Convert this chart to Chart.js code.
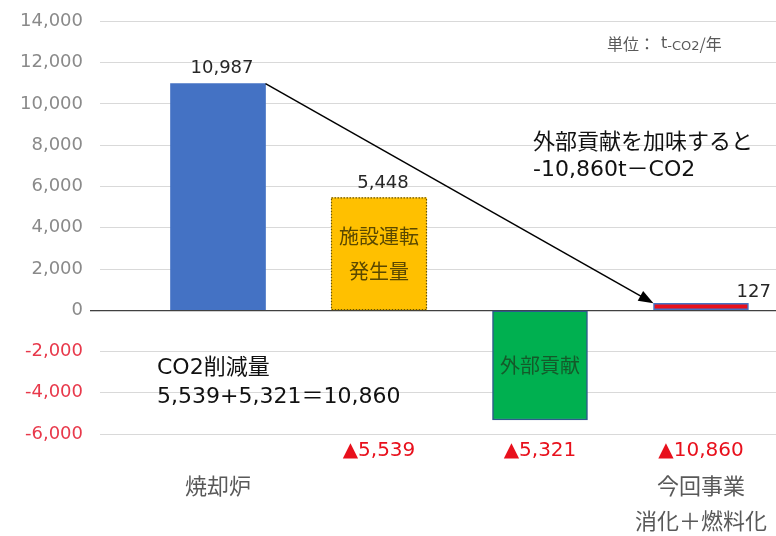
<!DOCTYPE html>
<html lang="ja">
<head>
<meta charset="utf-8">
<title>CO2削減量</title>
<script src="https://cdn.jsdelivr.net/npm/chart.js@4/dist/chart.umd.min.js"></script>
<style>
  html, body { margin: 0; padding: 0; background: #fff; overflow: hidden; }
  canvas { display: block; }
</style>
</head>
<body>
<canvas id="co2Chart" width="776" height="536"></canvas>
<script>
/* ------------------------------------------------------------
   data
   ------------------------------------------------------------ */
const categories = ["焼却炉", "施設運転発生量", "外部貢献", "今回事業"];
const values = [10987, 5448, -5321, 127];
const showValue = [true, true, false, true];
const reductions = [null, 5539, 5321, 10860];
const nameLabels = [["焼却炉"], [""], [""], ["今回事業", "消化＋燃料化"]];
const innerLabels = [[], ["施設運転", "発生量"], ["外部貢献"], []];
const yMin = -6000;
const yMax = 14000;
const yStep = 2000;

const fill = ["#4472C4", "#FFC000", "#00B050", "#E8101C"];
const edge = ["#4472C4", "#FFC000", "#2E5A8C", "#4472C4"];
const edgeWidth = [0, 0, 1.5, 1.5];

const LATIN = '"DejaVu Sans", "Noto Sans CJK JP", sans-serif';
const CJK = '"Noto Sans CJK JP", "DejaVu Sans", sans-serif';

const fmt = v => v.toLocaleString("en-US");

/* ------------------------------------------------------------
   overlay: arrow, dotted border, labels, notes
   ------------------------------------------------------------ */
const overlay = {
  id: "overlay",
  afterDatasetsDraw(chart) {
    const ctx = chart.ctx;
    const bars = chart.getDatasetMeta(0).data;
    ctx.save();

    // dotted outline on the 施設運転 bar
    const ob = bars[1];
    ctx.strokeStyle = "#6b5600";
    ctx.lineWidth = 1.2;
    ctx.setLineDash([1.5, 1.5]);
    ctx.strokeRect(ob.x - ob.width / 2, ob.y, ob.width, ob.base - ob.y);
    ctx.setLineDash([]);

    // arrow from the top of the first bar to the last one
    const a = bars[0], b = bars[3];
    const x1 = a.x + a.width / 2, y1 = a.y;
    const x2 = b.x - b.width / 2, y2 = Math.min(b.y, b.base);
    const ang = Math.atan2(y2 - y1, x2 - x1);
    const head = 15, half = 5.5;
    ctx.strokeStyle = "#000";
    ctx.fillStyle = "#000";
    ctx.lineWidth = 1.5;
    ctx.beginPath();
    ctx.moveTo(x1, y1);
    ctx.lineTo(x2 - Math.cos(ang) * head * 0.8, y2 - Math.sin(ang) * head * 0.8);
    ctx.stroke();
    ctx.beginPath();
    ctx.moveTo(x2, y2);
    ctx.lineTo(x2 - Math.cos(ang) * head - Math.sin(ang) * half, y2 - Math.sin(ang) * head + Math.cos(ang) * half);
    ctx.lineTo(x2 - Math.cos(ang) * head + Math.sin(ang) * half, y2 - Math.sin(ang) * head - Math.cos(ang) * half);
    ctx.closePath();
    ctx.fill();

    // value labels
    ctx.fillStyle = "#262626";
    ctx.font = "18px " + LATIN;
    ctx.textBaseline = "middle";
    bars.forEach((bar, i) => {
      if (!showValue[i]) return;
      const top = Math.min(bar.y, bar.base);
      if (i === bars.length - 1) {
        ctx.textAlign = "left";
        ctx.fillText(fmt(values[i]), bar.x + bar.width / 2 - 12, top - 11);
      } else {
        ctx.textAlign = "center";
        ctx.fillText(fmt(values[i]), bar.x + 4, top - 15);
      }
    });

    // text inside bars
    ctx.font = "20px " + CJK;
    ctx.textAlign = "center";
    const innerColor = ["#000", "#5a4800", "#145a2a", "#000"];
    bars.forEach((bar, i) => {
      const lines = innerLabels[i];
      if (!lines.length) return;
      const mid = (bar.y + bar.base) / 2;
      const lh = 35;
      ctx.fillStyle = innerColor[i];
      lines.forEach((t, k) => {
        ctx.fillText(t, bar.x, mid + (k - (lines.length - 1) / 2) * lh);
      });
    });

    // unit note
    ctx.textAlign = "left";
    ctx.fillStyle = "#595959";
    let ux = 607;
    const uy = 44;
    ctx.font = "16px " + CJK;
    ctx.fillText("単位：", ux, uy);
    ux += ctx.measureText("単位：").width + 6;
    ctx.font = "16px " + LATIN;
    ctx.fillText("t", ux, uy);
    ux += ctx.measureText("t").width;
    ctx.font = "13px " + LATIN;
    ctx.fillText("-CO2", ux, uy + 3);
    ux += ctx.measureText("-CO2").width;
    ctx.font = "16px " + CJK;
    ctx.fillText("/年", ux, uy);

    // notes
    ctx.fillStyle = "#111";
    ctx.font = "22px " + LATIN;
    ctx.fillText("外部貢献を加味すると", 533, 143);
    ctx.fillText("-10,860t－CO2", 533, 170);
    ctx.fillText("CO2削減量", 157, 368);
    ctx.fillText("5,539+5,321＝10,860", 157, 397);

    ctx.restore();
  }
};

/* ------------------------------------------------------------
   chart
   ------------------------------------------------------------ */
const xRange = { min: 0.267, max: 4.466, offset: false };
const categoryTicks = axis => {
  axis.ticks = categories.map((_, i) => ({ value: i + 1 }));
};

new Chart(document.getElementById("co2Chart").getContext("2d"), {
  type: "bar",
  data: {
    datasets: [{
      data: values.map((v, i) => ({ x: i + 1, y: v })),
      backgroundColor: fill,
      borderColor: edge,
      borderWidth: edgeWidth,
      borderSkipped: false,
      barThickness: 95,
      minBarLength: 7
    }]
  },
  options: {
    responsive: false,
    devicePixelRatio: 1,
    animation: false,
    layout: { padding: { top: 21.5, right: 0, left: 0, bottom: 0 } },
    plugins: {
      legend: { display: false },
      tooltip: { enabled: false }
    },
    scales: {
      x: {
        type: "linear",
        position: "bottom",
        weight: 0,
        ...xRange,
        afterBuildTicks: categoryTicks,
        afterFit: s => { s.height = 34; },
        grid: { display: false, drawTicks: false },
        border: { display: false },
        ticks: {
          autoSkip: false,
          maxRotation: 0,
          padding: 5,
          color: "#E8101C",
          font: { size: 20, family: LATIN },
          callback: (v, i) => reductions[i] ? "▲" + fmt(reductions[i]) : ""
        }
      },
      x2: {
        type: "linear",
        position: "bottom",
        weight: 1,
        ...xRange,
        afterBuildTicks: categoryTicks,
        afterFit: s => { s.height = 68; },
        grid: { display: false, drawTicks: false },
        border: { display: false },
        ticks: {
          autoSkip: false,
          maxRotation: 0,
          padding: 0,
          color: "#595959",
          font: { size: 22, family: CJK, lineHeight: 1.6 },
          callback: (v, i) => nameLabels[i]
        }
      },
      y: {
        min: yMin,
        max: yMax,
        afterFit: s => { s.width = 100; },
        border: { display: false },
        grid: {
          color: c => c.tick.value === 0 ? "#404040" : "#d9d9d9",
          lineWidth: c => c.tick.value === 0 ? 1.3 : 1,
          tickLength: 10,
          tickColor: c => c.tick.value === 0 ? "#404040" : "rgba(0,0,0,0)"
        },
        ticks: {
          stepSize: yStep,
          padding: 7,
          color: c => c.tick.value < 0 ? "#E8394B" : "#8a8a8a",
          font: { size: 18, family: LATIN },
          callback: v => fmt(v)
        }
      }
    }
  },
  plugins: [overlay]
});
</script>
</body>
</html>
